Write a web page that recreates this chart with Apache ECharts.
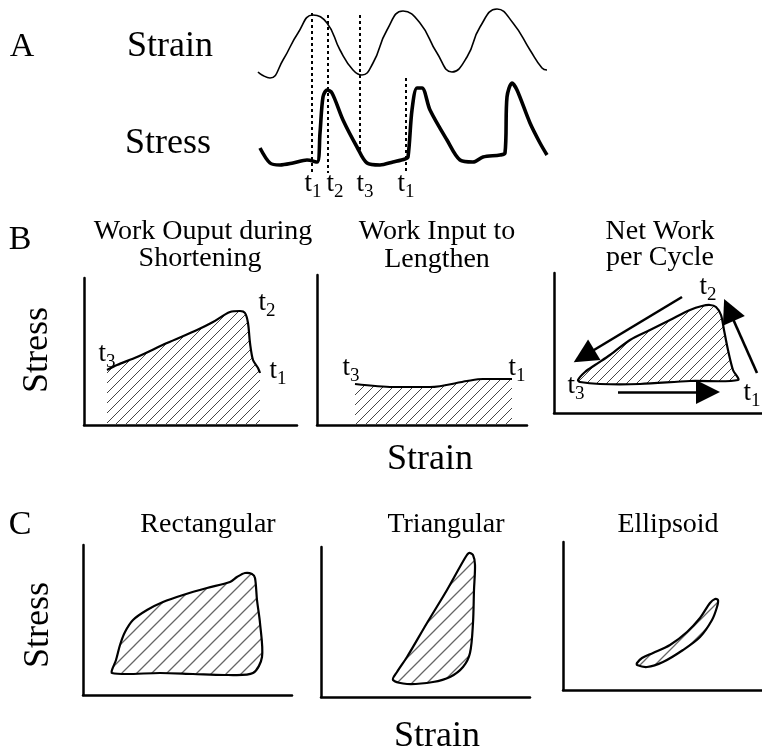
<!DOCTYPE html>
<html><head><meta charset="utf-8">
<script src="https://cdn.jsdelivr.net/npm/echarts@6/dist/echarts.min.js"></script>
<style>html,body{margin:0;padding:0;background:#fff}#chart{width:762px;height:750px}</style>
</head><body><div id="chart"></div>
<script>
const SERIF = '"Liberation Serif","Times New Roman",serif';

// ---------- Panel A (time vs. strain / stress, arbitrary units) ----------
const strainCurve = [[8,128],[12,125],[20,122],[33,140],[48,167],[63,185],[77,177],[90,150],[103,130],[112,125],[123,137],[137,170],[153,189],[170,177],[187,147],[202,128],[217,143],[230,173],[247,191],[263,177],[280,150],[292,132],[297,130]];
const stressCurve = [[10,52],[20,37],[30,35],[43,37],[57,40],[67,38],[70,67],[73,103],[77,110],[82,107],[93,80],[107,53],[117,37],[130,35],[143,38],[155,41],[158,43],[162,90],[167,112],[172,112],[180,90],[197,60],[210,40],[223,38],[233,43],[250,45],[255,47],[257,103],[262,117],[267,110],[280,77],[290,57],[297,45]];
const markerTimes = [62, 78, 110, 156];
const markerTops = [187, 185, 185, 122];
const markerBottoms = [27, 27, 45, 27];
const labelsA = [['1',63,14],['2',85,14],['3',115,14],['1',156,14]];

// ---------- Panel B (strain vs. stress) ----------
const b1Top = [[23,55],[33,60],[53,68],[83,82],[113,95],[129,103],[146,113],[156,114],[161,112],[164,102],[166,82],[169,65],[174,57],[176,52]];
const b2Top = [[38,41],[76,38],[113,38],[150,44],[166,46],[195,46]];
const b3Loop = [[26,31],[46,29],[86,29],[136,32],[184,33],[179,43],[174,63],[170,83],[167,98],[162,106],[156,108],[148,107],[136,103],[116,93],[96,83],[76,73],[56,58],[41,48],[31,41],[24,33]];
const b3Arrows = [[[128,116],[30,57]],[[64,21],[154,21]],[[203,40],[175,103]]];
const labelsB1 = [['2',183,120],['3',23,69],['1',194,52]];
const labelsB2 = [['3',34,55],['1',200,55]];
const labelsB3 = [['2',154,124],['3',22,25],['1',198,18]];

// ---------- Panel C (loop shapes) ----------
const c1Loop = [[29,22],[44,21],[77,22],[110,21],[144,20],[170,22],[179,38],[177,72],[174,95],[172,117],[169,121],[162,122],[154,118],[147,113],[124,107],[100,100],[80,93],[64,85],[50,75],[42,63],[37,50],[33,35],[29,25]];
const c2Loop = [[72,17],[86,13],[112,15],[129,20],[142,30],[149,44],[152,74],[153,107],[154,132],[152,142],[148,144],[144,139],[126,107],[106,74],[86,40],[76,25]];
const c3Loop = [[74,25],[84,23],[100,28],[120,40],[137,53],[149,70],[154,83],[155,90],[152,91],[147,87],[137,72],[124,58],[107,45],[90,37],[79,32],[74,27]];

// ---------- layout ----------
const grids = [
  {left:250, top:0,   width:310, height:200},
  {left:84,  top:278, width:213, height:147},
  {left:317, top:275, width:210, height:150},
  {left:554, top:273, width:208, height:140},
  {left:83,  top:545, width:209, height:150},
  {left:321, top:547, width:209, height:150},
  {left:563, top:542, width:199, height:148}
];

function makeHatch(size, color, lw) {
  const c = document.createElement('canvas');
  c.width = size; c.height = size;
  const g = c.getContext('2d');
  g.strokeStyle = color; g.lineWidth = lw;
  g.beginPath();
  g.moveTo(0, size); g.lineTo(size, 0);
  g.moveTo(-size/2, size/2); g.lineTo(size/2, -size/2);
  g.moveTo(size/2, size*1.5); g.lineTo(size*1.5, size/2);
  g.stroke();
  return c;
}
const hatchB = makeHatch(10, '#444', 1);
const hatchC = makeHatch(15, '#666', 1.3);

const axisCommon = (i, dim) => ({
  gridIndex: i, type: 'value', min: 0,
  max: dim === 'x' ? grids[i].width : grids[i].height,
  show: i > 0,
  axisLine: {onZero: false, lineStyle: {color: '#000', width: 2.5}},
  axisTick: {show: false}, axisLabel: {show: false}, splitLine: {show: false}
});

function polySeries(gi, pts, hatch, stroke, smooth) {
  return {
    type: 'custom', xAxisIndex: gi, yAxisIndex: gi, data: pts, silent: true,
    renderItem: function (params, api) {
      if (params.dataIndex !== 0) return {type: 'group', children: []};
      const points = pts.map(p => api.coord(p));
      return {type: 'polygon', shape: {points: points, smooth: smooth},
        style: {fill: {image: hatch, repeat: 'repeat'}, stroke: stroke ? '#000' : null, lineWidth: 2.2}};
    }
  };
}
function lineSeries(gi, pts, w, smooth) {
  return {type: 'line', xAxisIndex: gi, yAxisIndex: gi, data: pts, symbol: 'none', smooth: smooth,
    lineStyle: {color: '#000', width: w}, silent: true, z: 3};
}
const tRich = {
  t: {fontFamily: SERIF, fontSize: 27, lineHeight: 26, verticalAlign: 'top', color: '#000', textBorderWidth: 0},
  s: {fontFamily: SERIF, fontSize: 19, lineHeight: 31, verticalAlign: 'bottom', color: '#000', textBorderWidth: 0}
};
function labelSeries(gi, arr) {
  return {type: 'scatter', xAxisIndex: gi, yAxisIndex: gi, symbolSize: 0, silent: true, z: 5,
    itemStyle: {color: '#000', opacity: 1},
    data: arr.map(a => ({name: a[0], value: [a[1], a[2]]})),
    label: {show: true, position: 'inside', color: '#000', textBorderWidth: 0, fontFamily: SERIF, fontSize: 27,
      formatter: p => '{t|t}{s|' + p.name + '}', rich: tRich}};
}

const series = [
  lineSeries(0, strainCurve, 1.6, 0.5),
  lineSeries(0, stressCurve, 3.6, 0.3),
  {type: 'lines', coordinateSystem: 'cartesian2d', xAxisIndex: 0, yAxisIndex: 0, silent: true,
    data: markerTimes.map((t, i) => ({coords: [[t, markerTops[i]], [t, markerBottoms[i]]]})),
    lineStyle: {color: '#000', width: 2, type: [3, 3], opacity: 1}},
  labelSeries(0, labelsA),
  polySeries(1, [[b1Top[0][0], 0]].concat(b1Top, [[b1Top[b1Top.length-1][0], 0]]), hatchB, false, 0),
  lineSeries(1, b1Top, 2.2, 0.3),
  polySeries(2, [[b2Top[0][0], 0]].concat(b2Top, [[b2Top[b2Top.length-1][0], 0]]), hatchB, false, 0),
  lineSeries(2, b2Top, 2, 0.3),
  polySeries(3, b3Loop, hatchB, true, 0.3),
  {type: 'lines', coordinateSystem: 'cartesian2d', xAxisIndex: 3, yAxisIndex: 3, silent: true,
    data: b3Arrows.map(a => ({coords: a})),
    symbol: ['none', 'triangle'], symbolSize: [15, 24],
    lineStyle: {color: '#000', width: 2.6, opacity: 1}, itemStyle: {color: '#000'}},
  labelSeries(1, labelsB1),
  labelSeries(2, labelsB2),
  labelSeries(3, labelsB3),
  polySeries(4, c1Loop, hatchC, true, 0.3),
  polySeries(5, c2Loop, hatchC, true, 0.3),
  polySeries(6, c3Loop, hatchC, true, 0.3)
];

function txt(s, x, y, size, rot) {
  return {type: 'text', x: x, y: y, rotation: rot || 0, silent: true,
    style: {text: s, fontFamily: SERIF, fontSize: size, fill: '#000', align: 'center', verticalAlign: 'middle'}};
}
const graphics = [
  txt('A', 22, 47, 34), txt('Strain', 170, 47, 36), txt('Stress', 168, 144, 36),
  txt('B', 20, 240, 34),
  txt('Work Ouput during', 203, 232, 28), txt('Shortening', 200, 259, 28),
  txt('Work Input to', 437, 232, 28), txt('Lengthen', 437, 260, 28),
  txt('Net Work', 660, 232, 28), txt('per Cycle', 660, 258, 28),
  txt('Stress', 38, 350, 36, Math.PI / 2), txt('Strain', 430, 460, 36),
  txt('C', 20, 525, 34),
  txt('Rectangular', 208, 525, 28), txt('Triangular', 446, 525, 28), txt('Ellipsoid', 668, 525, 28),
  txt('Stress', 39, 625, 36, Math.PI / 2), txt('Strain', 437, 737, 36)
];

const chart = echarts.init(document.getElementById('chart'), null, {renderer: 'canvas'});
chart.setOption({
  animation: false,
  backgroundColor: '#fff',
  grid: grids,
  xAxis: grids.map((g, i) => axisCommon(i, 'x')),
  yAxis: grids.map((g, i) => axisCommon(i, 'y')),
  series: series,
  graphic: graphics
});
</script></body></html>
